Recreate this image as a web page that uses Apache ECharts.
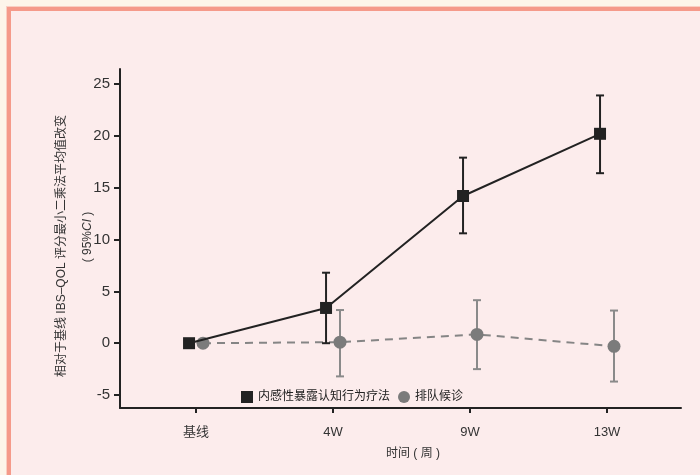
<!DOCTYPE html>
<html>
<head>
<meta charset="utf-8">
<script src="https://cdn.jsdelivr.net/npm/echarts@6/dist/echarts.min.js"></script>
<style>
html,body{margin:0;padding:0;width:700px;height:475px;overflow:hidden;background:#fdf5ea;}
#frame{position:absolute;left:6px;top:6px;width:800px;height:600px;border:1px solid #f9cfc3;}
#inner{position:absolute;left:7px;top:7px;width:800px;height:600px;border-left:4px solid #f59a8a;border-top:4px solid #f59a8a;background:#fcecec;}
#chart{position:absolute;left:0;top:0;width:700px;height:475px;}
</style>
</head>
<body>
<div id="frame"></div>
<div id="inner"></div>
<div id="chart"></div>
<script>
const categories = ['基线', '4W', '9W', '13W'];
const yTicks = [-5, 0, 5, 10, 15, 20, 25];
const cbtName = '内感性暴露认知行为疗法';
const waitName = '排队候诊';
const cbtMean = [0, 3.4, 14.2, 20.2];
const cbtLow  = [0, 0.0, 10.6, 16.4];
const cbtHigh = [0, 6.8, 17.9, 23.9];
const waitMean = [0, 0.1, 0.85, -0.3];
const waitLow  = [0, -3.2, -2.5, -3.7];
const waitHigh = [0, 3.2, 4.15, 3.15];

const OFF = 0.051;
const font = 'Liberation Sans, Arial, Noto Sans CJK SC, sans-serif';

function pts(mean, off) { return mean.map((v, i) => [i + off, v]); }
function bars(lo, hi, off) {
  const out = [];
  lo.forEach((v, i) => { if (hi[i] !== v) out.push([i + off, v, hi[i]]); });
  return out;
}
function errRender(color) {
  return function (params, api) {
    const x = api.value(0);
    const a = api.coord([x, api.value(1)]);
    const b = api.coord([x, api.value(2)]);
    const w = 4;
    const st = { stroke: color, lineWidth: 2 };
    return {
      type: 'group',
      children: [
        { type: 'line', shape: { x1: a[0], y1: a[1], x2: b[0], y2: b[1] }, style: st },
        { type: 'line', shape: { x1: a[0] - w, y1: a[1], x2: a[0] + w, y2: a[1] }, style: st },
        { type: 'line', shape: { x1: b[0] - w, y1: b[1], x2: b[0] + w, y2: b[1] }, style: st }
      ]
    };
  };
}

const chart = echarts.init(document.getElementById('chart'), null, { renderer: 'canvas' });
chart.setOption({
  backgroundColor: 'transparent',
  animation: false,
  textStyle: { fontFamily: font },
  grid: { left: 120, right: 19, top: 69, bottom: 67 },
  legend: {
    left: 236, top: 386, itemWidth: 12, itemHeight: 12, itemGap: 8,
    textStyle: { fontSize: 12, color: '#222', fontFamily: font },
    data: [
      { name: cbtName, icon: 'rect', itemStyle: { color: '#222' } },
      { name: waitName, icon: 'circle', itemStyle: { color: '#7b7b7b' } }
    ]
  },
  xAxis: {
    type: 'value', min: -0.555, max: 3.54,
    axisLine: { onZero: false, lineStyle: { color: '#222', width: 2 } },
    axisTick: { show: true, customValues: [0, 1, 2, 3], length: 5, lineStyle: { color: '#222', width: 2 } },
    axisLabel: { customValues: [0, 1, 2, 3], formatter: v => categories[Math.round(v)], fontSize: 13, color: '#333', margin: 18 },
    splitLine: { show: false }
  },
  yAxis: {
    type: 'value', min: -6.25, max: 26.45,
    axisLine: { show: true, onZero: false, lineStyle: { color: '#222', width: 2 } },
    axisTick: { show: true, customValues: yTicks, length: 6, lineStyle: { color: '#222', width: 2 } },
    axisLabel: { customValues: yTicks, fontSize: 15, color: '#333', margin: 10 },
    splitLine: { show: false }
  },
  graphic: [
    { type: 'text', x: 62, y: 246, rotation: Math.PI / 2,
      style: { text: '相对于基线 IBS–QOL 评分最小二乘法平均值改变', font: '12px ' + font, fill: '#333', align: 'center', verticalAlign: 'middle' } },
    { type: 'text', x: 88, y: 237, rotation: Math.PI / 2,
      style: { text: '( 95%{i|CI} )', font: '12px ' + font, fill: '#333', align: 'center', verticalAlign: 'middle',
        rich: { i: { fontStyle: 'italic', fontSize: 12, fontFamily: font, fill: '#333' } } } },
    { type: 'text', x: 413, y: 454,
      style: { text: '时间 ( 周 )', font: '12px ' + font, fill: '#333', align: 'center', verticalAlign: 'middle' } }
  ],
  series: [
    { type: 'custom', name: 'waitErr', renderItem: errRender('#8a8a8a'), data: bars(waitLow, waitHigh, OFF), z: 2, silent: true },
    { type: 'line', name: waitName, data: pts(waitMean, OFF), symbol: 'circle', symbolSize: 13,
      lineStyle: { color: '#858585', width: 2, type: [8, 6] }, itemStyle: { color: '#7b7b7b' }, z: 3 },
    { type: 'custom', name: 'cbtErr', renderItem: errRender('#222'), data: bars(cbtLow, cbtHigh, -OFF), z: 4, silent: true },
    { type: 'line', name: cbtName, data: pts(cbtMean, -OFF), symbol: 'rect', symbolSize: 12,
      lineStyle: { color: '#222', width: 2 }, itemStyle: { color: '#222' }, z: 5 }
  ]
});
</script>
</body>
</html>
